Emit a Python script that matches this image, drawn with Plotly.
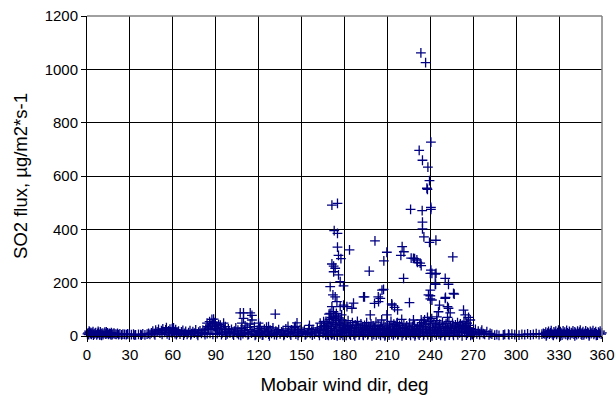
import plotly.graph_objects as go

# (wind direction deg, SO2 flux) pairs
pts_000_030 = [(0.3,8),(0.8,12),(1.2,5),(1.9,14),(2.4,9),(3.1,6),(3.6,11),(4.2,16),(4.9,7),(5.5,10),
               (6.1,13),(6.8,4),(7.4,9),(8.0,12),(8.7,6),(9.3,15),(9.9,8),(10.6,11),(11.2,5),(11.9,10),
               (12.5,14),(13.1,7),(13.8,9),(14.4,12),(15.0,6),(15.7,10),(16.3,8),(17.0,13),(17.6,5),(18.2,9),
               (18.9,11),(19.6,7),(20.4,6),(21.3,10),(22.1,5),(23.0,8),(24.2,4),(25.1,7),(26.3,6),(27.5,5),
               (28.4,8),(29.6,6),(1.5,18),(4.5,3),(7.8,17),(10.2,2),(13.5,15),(16.8,4),(2.8,13),(9.0,3)]
pts_030_045 = [(31,5),(32.5,7),(34,4),(36,6),(37.5,5),(39,8),(40.5,4),(42,7),(43,10),(44,6),(33,3),(38,3)]
pts_045_085 = [(45,12),(46,18),(47,9),(48,22),(49,15),(50,25),(51,11),(52,20),(53,27),(54,14),(55,23),(56,8),
               (57,19),(58,26),(59,13),(60,21),(60.5,30),(61,16),(61.5,9),(62,24),(63,12),(64,18),(65,7),
               (66,15),(67,21),(68,10),(69,17),(70,6),(71,13),(72,20),(73,9),(74,16),(75,11),(76,23),(77,8),
               (78,14),(79,19),(80,10),(81,22),(82,13),(83,26),(84,9),(47.5,4),(52.5,6),(57.5,3),(62.5,5),
               (67.5,3),(72.5,4),(77.5,2),(82.5,5),(55.5,31),(59.5,28)]
pts_085_100 = [(85,30),(85.7,54),(86.2,41),(86.8,25),(87.3,62),(87.8,45),(88.5,63),(89,35),(89.3,50),(89.7,48),
               (90.2,28),(90.8,38),(91.5,22),(92,43),(92.5,15),(93.2,41),(93.8,30),(94.5,12),(95.5,48),(96,25),
               (96.7,35),(97.2,18),(98,8),(98.8,27),(99.5,14),(86,10),(88,6),(91,9),(94,5),(97,3),(83.9,48),(84.5,35)]
pts_100_165 = [(100,12),(101,25),(102,8),(103,18),(104,30),(105,10),(105.5,22),(106,5),(107,15),(108,28),(109,9),
               (110,20),(111,13),(112,32),(113,7),(114,24),(115,11),(116,17),(117,35),(118,6),(119,21),(120,14),
               (120.5,28),(121,9),(122,19),(123,4),(124,26),(125,12),(126,16),(127,7),(128,22),(129,10),(130,30),
               (131,5),(132,18),(133,13),(134,24),(135,8),(136,15),(137,20),(138,6),(139,27),(140,11),(141,17),
               (142,9),(143,23),(144,14),(145,31),(146,7),(147,19),(148,12),(149,25),(150,9),(151,16),(152,22),
               (153,6),(154,13),(155,28),(156,10),(157,18),(158,24),(159,8),(160,15),(161,30),(162,12),(163,20),
               (164,35),(102.5,3),(107.5,2),(112.5,4),(117.5,2),(122.5,3),(127.5,1),(132.5,4),(137.5,2),(142.5,3),
               (147.5,2),(152.5,4),(157.5,3),(162.5,2),(110.5,38),(125.5,33),(140.5,36),(155.5,40)]
pts_100_165_high = [(107.1,87),(109.4,87),(114.1,87),(115.3,77),(108.3,48),(114.1,45),(109.4,66),(115.3,60),
                    (131.6,82),(119.9,48),(121.1,36),(146.8,49),(145.6,36),(126.9,35),(163,48),(165.4,54),(167.7,48)]
pts_165_180 = [(165,10),(165.5,25),(166,40),(166.5,15),(167,55),(167.5,30),(168,5),(168.5,45),(169,20),(169.5,62),
               (170,35),(170.3,12),(170.7,70),(171,28),(171.4,50),(171.8,8),(172.2,65),(172.6,38),(173,18),(173.4,75),
               (173.8,44),(174.2,22),(174.6,58),(175,6),(175.4,33),(175.8,68),(176.2,15),(176.6,48),(177,26),(177.4,60),
               (177.8,10),(178.2,40),(178.6,20),(179,52),(179.4,30),(179.8,14),(166.8,3),(168.8,2),(170.9,4),(172.9,3),
               (174.9,1),(176.9,3),(178.9,2),(169.2,82),(174.3,85)]
pts_165_195_high = [(171.2,491),(175.1,497),(172.8,395),(175.1,385),(175.1,333),(183.5,323),(175.8,302),(177.5,290),
                    (171.2,270),(172.4,262),(173.5,254),(172.4,241),(175.8,229),(177,204),(179.3,188),(170,185),
                    (171.9,154),(173.5,147),(171.2,110),(179.3,116),(181.7,110),(170,85),(173.5,72),(178,79),
                    (172.3,91),(177,110),(174.7,129),(186.3,123),(185.2,104),(193.3,147),(194,147)]
pts_180_270 = [(180.5,25),(181,45),(181.5,12),(182,35),(182.5,58),(183,20),(183.5,8),(184,40),(184.5,28),(185,15),
               (185.5,50),(186,32),(186.5,6),(187,22),(187.5,42),(188,12),(188.5,30),(189,55),(189.5,18),(190,38),
               (190.5,8),(191,26),(191.5,45),(192,15),(192.5,33),(193,5),(193.5,24),(194,40),(194.5,12),(195,30),
               (195.5,50),(196,20),(196.5,8),(197,36),(197.5,15),(198,28),(198.5,45),(199,10),(199.5,22),(200,38),
               (200.5,6),(201,30),(201.5,18),(202,52),(202.5,12),(203,25),(203.5,40),(204,8),(204.5,20),(205,35),
               (205.5,14),(206,60),(206.5,28),(207,10),(207.5,42),(208,22),(208.5,5),(209,33),(209.5,18),(210,48),
               (210.5,26),(211,12),(211.5,38),(212,20),(212.5,55),(213,8),(213.5,30),(214,15),(214.5,44),(215,25),
               (215.5,10),(216,35),(216.5,18),(217,50),(217.5,6),(218,28),(218.5,40),(219,14),(219.5,22),(220,62),
               (220.5,32),(221,10),(221.5,45),(222,18),(222.5,28),(223,5),(223.5,38),(224,20),(224.5,12),(225,30),
               (225.5,48),(226,8),(226.5,24),(227,15),(227.5,36),(228,10),(228.5,20),(229,42),(229.5,6),(230,28),
               (230.5,16),(231,34),(231.5,9),(232,22),(232.5,40),(233,12),(233.5,26),(234,50),(234.5,18),(235,35),
               (235.5,8),(236,60),(236.5,25),(237,42),(237.5,14),(238,70),(238.5,30),(239,55),(239.5,20),(240,45),
               (240.5,10),(241,65),(241.5,32),(242,22),(242.5,48),(243,12),(243.5,38),(244,26),(244.5,58),(245,16),
               (245.5,34),(246,8),(246.5,44),(247,22),(247.5,30),(248,12),(248.5,52),(249,20),(249.5,36),(250,6),
               (250.5,28),(251,46),(251.5,14),(252,32),(252.5,22),(253,55),(253.5,10),(254,38),(254.5,18),(255,28),
               (255.5,48),(256,8),(256.5,34),(257,20),(257.5,42),(258,14),(258.5,30),(259,50),(259.5,22),(260,36),
               (260.5,12),(261,45),(261.5,26),(262,18),(262.5,40),(263,30),(263.5,55),(264,14),(264.5,35),(265,24),
               (265.5,48),(266,10),(266.5,30),(267,40),(267.5,20),(268,28),(268.5,8),(269,15),(269.5,5),
               (181.2,2),(184.2,3),(187.2,1),(190.2,3),(193.2,2),(196.2,4),(199.2,1),(202.2,3),(205.2,2),(208.2,1),
               (211.2,3),(214.2,2),(217.2,4),(220.2,1),(223.2,3),(226.2,2),(229.2,1),(232.2,3),(235.2,2),(238.2,4),
               (241.2,1),(244.2,3),(247.2,2),(250.2,1),(253.2,3),(256.2,2),(259.2,4),(262.2,1),(265.2,3),(268.2,2)]
pts_195_270_high = [(233.4,1062),(236.7,1025),(240.4,727),(232.2,696),(234.5,659),(238.3,633),(239.4,583),(237.6,554),
                    (238,550),(226.2,475),(234.3,470),(240.4,475),(240.4,482),(234.5,427),(234.5,402),(235.5,372),
                    (239.4,351),(243.9,359),(201.3,357),(209.6,314),(207.5,282),(220.3,335),(221.5,316),(219.4,302),
                    (226.6,292),(229,290),(231,276),(233.6,264),(255.7,297),(197.3,243),(221.3,216),(240,235),
                    (240.4,247),(244,235),(241.1,235),(250.4,216),(252.7,194),(243.7,194),(207.3,175),(240,172),
                    (240,151),(240,139),(256.7,157),(250.6,145),(225.4,125),(203.6,147),(201,122),(213,120),(215,107),
                    (246.4,116),(252,110),(263.2,97),(206.2,172),(205,141),(203.8,129),(213.2,116),(217.1,98),
                    (198,79),(209.6,79),(216.6,48),(228.2,60),(245.7,91),(244.6,72),(252.7,104),(253.9,87),(252,70),
                    (264.4,79),(266.7,70),(267.9,60),(265.6,48),(233.6,60),(235.2,48),(232.9,35),(238.7,154),
                    (241.1,135),(256.2,160),(250.4,141),(228.2,291),(230.6,285),(232.9,273),(243.4,232),(243.4,195)]
pts_270_290 = [(270.5,12),(271.5,25),(272.5,8),(273.5,18),(274.5,5),(275.5,14),(276,22),(277,9),(278,6),(279.5,16),
               (281,4),(281.8,10),(283,7),(285,3),(286.5,5),(288,2),(291,4),(294.6,7)]
pts_290_320 = [(292,6),(295,4),(297,7),(299,5),(302,3),(304,6),(306,5),(308,8),(310,4),(312,6),(314,9),(316,5),
               (318,7),(319,10)]
pts_320_360 = [(320,8),(320.7,14),(321.3,5),(322,11),(322.6,17),(323.2,7),(323.9,12),(324.5,20),(325.1,9),(325.8,4),
               (326.4,15),(327,10),(327.7,18),(328.3,6),(329,13),(329.6,22),(330.2,8),(330.9,16),(331.5,11),(332.1,3),
               (332.8,19),(333.4,9),(334,14),(334.7,6),(335.3,21),(335.9,12),(336.6,8),(337.2,17),(337.8,4),(338.5,13),
               (339.1,10),(339.7,19),(340.4,7),(341,15),(341.6,11),(342.3,5),(342.9,18),(343.5,9),(344.2,14),(344.8,22),
               (345.4,7),(346.1,12),(346.7,16),(347.3,4),(348,10),(348.6,19),(349.2,8),(349.9,14),(350.5,11),(351.1,5),
               (351.8,17),(352.4,9),(353,13),(353.7,20),(354.3,6),(354.9,12),(355.6,16),(356.2,8),(356.8,3),(357.5,14),
               (358.1,10),(358.7,18),(359.4,7),(359.9,12),(321,1),(326,2),(331,1),(336,2),(341,1),(346,3),(351,1),(356,2)]

x_ticks = list(range(0, 361, 30))
y_ticks = list(range(0, 1201, 200))

all_pts = (pts_000_030 + pts_030_045 + pts_045_085 + pts_085_100 + pts_100_165 + pts_100_165_high +
           pts_165_180 + pts_165_195_high + pts_180_270 + pts_195_270_high + pts_270_290 + pts_290_320 +
           pts_320_360)
wind_dir = [p[0] for p in all_pts]
so2_flux = [p[1] for p in all_pts]

navy = "#000080"
font_family = "Liberation Sans, Arial, sans-serif"

fig = go.Figure()
fig.add_trace(go.Scatter(
    x=wind_dir, y=so2_flux, mode="markers", cliponaxis=False,
    marker=dict(symbol="cross-thin", size=7, color=navy, line=dict(color=navy, width=1.3)),
    showlegend=False, hoverinfo="skip"))

axis_common = dict(showgrid=True, gridcolor="black", gridwidth=1, zeroline=False,
                   showline=True, linecolor="black", linewidth=1, automargin=False,
                   ticks="outside", ticklen=5, tickcolor="black", tickwidth=1,
                   tickfont=dict(family=font_family, size=15, color="black"))

fig.update_layout(
    width=615, height=405,
    margin=dict(l=87, r=13, t=16, b=69),
    paper_bgcolor="white", plot_bgcolor="white",
    font=dict(family=font_family, color="black"),
    xaxis=dict(range=[0, 360], tickvals=x_ticks, ticktext=[str(v) for v in x_ticks],
               title=dict(text="Mobair wind dir, deg", font=dict(size=18.8), standoff=15), **axis_common),
    yaxis=dict(range=[0, 1200], tickvals=y_ticks, ticktext=[str(v) for v in y_ticks],
               title=dict(text="SO2 flux, µg/m2*s-1", font=dict(size=18.5), standoff=12), **axis_common),
    shapes=[
        dict(type="line", xref="paper", yref="paper", x0=0, x1=1, y0=1, y1=1,
             line=dict(color="#808080", width=1.5), layer="above"),
        dict(type="line", xref="paper", yref="paper", x0=1, x1=1, y0=0, y1=1,
             line=dict(color="#808080", width=1.5), layer="above"),
    ],
)

fig.write_html("out.html")
